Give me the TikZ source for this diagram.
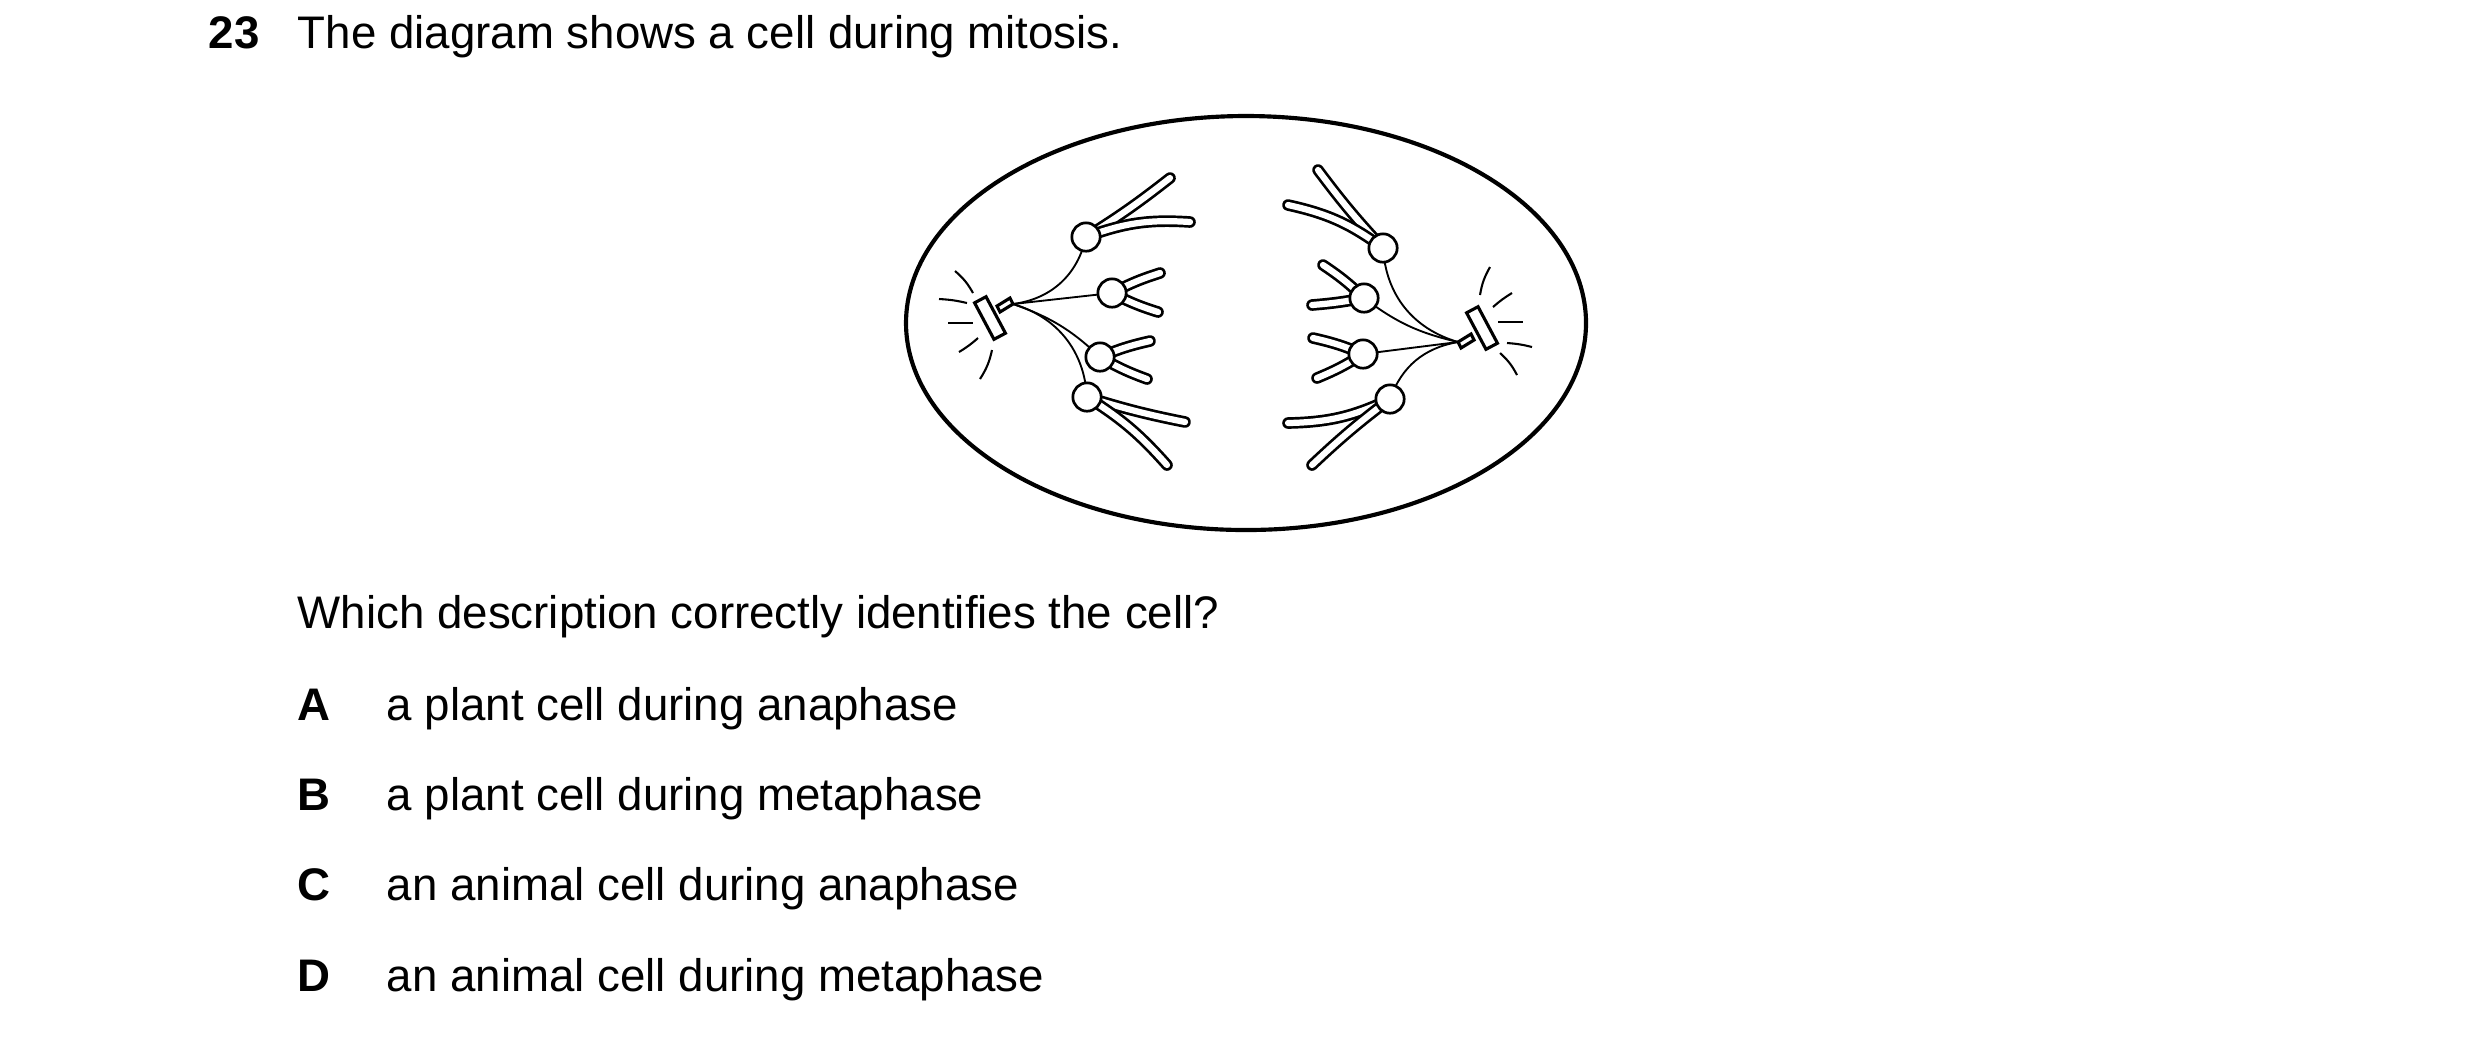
\documentclass[tikz,border=0pt]{standalone}
\usepackage{fontspec}
\setmainfont{Liberation Sans}
\begin{document}
\begin{tikzpicture}[x=0.08467mm,y=-0.08467mm,
  txt/.style={anchor=base west,inner sep=0,font=\fontsize{11}{13}\selectfont},
  lbl/.style={txt,font=\fontsize{11}{13}\selectfont\bfseries},
  arm/.style={line width=0.65pt,double=white,double distance=1.5pt,line cap=round},
  cen/.style={circle,draw,line width=0.65pt,fill=white,minimum size=4.8mm*0.5,inner sep=0},
  fib/.style={line width=0.45pt},
  ast/.style={line width=0.5pt},
  cs/.style={draw,line width=0.75pt,fill=white,minimum width=3.5mm,minimum height=1.1mm,inner sep=0}]
\useasboundingbox (0,0) rectangle (2480,1044);
\node[lbl] (q) at (208,48) {23};
\node[txt] (t) at (297,48) {The diagram shows a cell during mitosis.};
\draw[line width=1pt] (1246,323) ellipse [x radius=340,y radius=207];
% left centrosome
\coordinate (pl) at (1013,304);
\draw[line width=0.75pt,fill=white] (pl) -- ++(-13,8) -- ++(-3,-6) -- ++(13,-8) -- cycle;
\node[cs,rotate=-62] (csl) at (990,318) {};
\draw[ast] (955,271) to[bend left=10] (973,293);
\draw[ast] (939,299) to[bend left=5] (967,303);
\draw[ast] (948,323) -- (973,323);
\draw[ast] (959,352) to[bend right=5] (978,338);
\draw[ast] (980,379) to[bend right=10] (992,350);
% right centrosome
\coordinate (pr) at (1458,342);
\draw[line width=0.75pt,fill=white] (pr) -- ++(13,-8) -- ++(3,6) -- ++(-13,8) -- cycle;
\node[cs,rotate=-62] (csr) at (1482,328) {};
\draw[ast] (1490,267) to[bend right=10] (1480,295);
\draw[ast] (1512,293) to[bend right=5] (1493,307);
\draw[ast] (1498,322) -- (1523,322);
\draw[ast] (1507,343) to[bend left=5] (1532,347);
\draw[ast] (1500,353) to[bend left=10] (1517,375);
% left chromosomes
\coordinate (a1) at (1086,237); \coordinate (a2) at (1112,293);
\coordinate (a3) at (1100,357); \coordinate (a4) at (1087,397);
\draw[arm] (a1) to[bend right=3] (1170,178);
\draw[arm] (a1) to[bend left=12] (1190,222);
\draw[arm] (a2) to[bend left=5] (1160,273);
\draw[arm] (a2) to[bend right=5] (1158,312);
\draw[arm] (a3) to[bend left=5] (1150,341);
\draw[arm] (a3) to[bend right=5] (1147,379);
\draw[arm] (a4) to[bend right=3] (1185,422);
\draw[arm] (a4) to[bend left=8] (1167,465);
\draw[fib] (pl) to[bend right=35] (a1);
\draw[fib] (pl) -- (a2);
\draw[fib] (pl) to[bend left=12] (a3);
\draw[fib] (pl) to[bend left=35] (a4);
\node[cen] (c1) at (a1) {}; \node[cen] (c2) at (a2) {};
\node[cen] (c3) at (a3) {}; \node[cen] (c4) at (a4) {};
% right chromosomes
\coordinate (b1) at (1383,248); \coordinate (b2) at (1364,298);
\coordinate (b3) at (1363,354); \coordinate (b4) at (1390,399);
\draw[arm] (b1) to[bend left=3] (1318,170);
\draw[arm] (b1) to[bend right=12] (1288,205);
\draw[arm] (b2) to[bend right=5] (1323,265);
\draw[arm] (b2) to[bend left=3] (1312,305);
\draw[arm] (b3) to[bend right=5] (1313,338);
\draw[arm] (b3) to[bend left=5] (1317,378);
\draw[arm] (b4) to[bend left=12] (1288,423);
\draw[arm] (b4) to[bend right=3] (1312,465);
\draw[fib] (pr) to[bend left=35] (b1);
\draw[fib] (pr) to[bend left=12] (b2);
\draw[fib] (pr) -- (b3);
\draw[fib] (pr) to[bend right=30] (b4);
\node[cen] (d1) at (b1) {}; \node[cen] (d2) at (b2) {};
\node[cen] (d3) at (b3) {}; \node[cen] (d4) at (b4) {};
% question
\node[txt] (w) at (297,628) {Which description correctly identifies the cell?};
\node[lbl] (la) at (297,720) {A}; \node[txt] (ta) at (386,720) {a plant cell during anaphase};
\node[lbl] (lb) at (297,810) {B}; \node[txt] (tb) at (386,810) {a plant cell during metaphase};
\node[lbl] (lc) at (297,900) {C}; \node[txt] (tc) at (386,900) {an animal cell during anaphase};
\node[lbl] (ld) at (297,991) {D}; \node[txt] (td) at (386,991) {an animal cell during metaphase};
\end{tikzpicture}
\end{document}
